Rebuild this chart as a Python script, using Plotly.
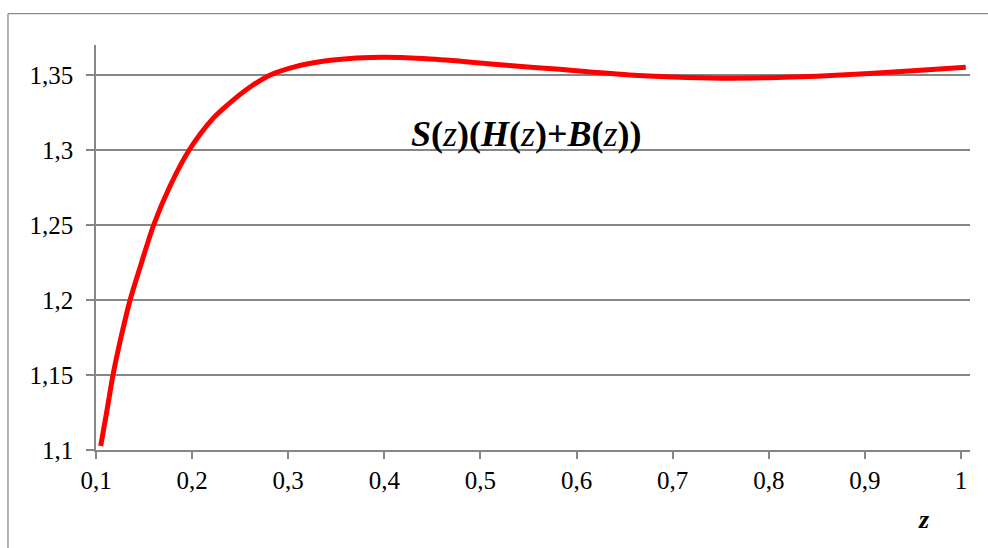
import plotly.graph_objects as go

z_vals = [0.1049, 0.1115, 0.1177, 0.1254, 0.1355, 0.1472, 0.160, 0.1767, 0.1970, 0.2218,
          0.2391, 0.26, 0.2808, 0.3085, 0.3362, 0.371, 0.40, 0.44, 0.485, 0.53, 0.5825, 0.62, 0.655,
          0.7, 0.75, 0.8, 0.85, 0.9, 0.95, 1.005]
f_vals = [1.1027, 1.1267, 1.15, 1.1733, 1.2, 1.2245, 1.25, 1.2755, 1.3, 1.3211,
          1.3313, 1.3418, 1.3499, 1.3558, 1.3591, 1.3613, 1.3619, 1.3610, 1.3589, 1.3563, 1.3538, 1.3517, 1.3500,
          1.3487, 1.3479, 1.3482, 1.3492, 1.3508, 1.3528, 1.3551]

x_ticks = [0.1, 0.2, 0.3, 0.4, 0.5, 0.6, 0.7, 0.8, 0.9, 1.0]
x_labels = ["0,1", "0,2", "0,3", "0,4", "0,5", "0,6", "0,7", "0,8", "0,9", "1"]
y_ticks = [1.1, 1.15, 1.2, 1.25, 1.3, 1.35]
y_labels = ["1,1", "1,15", "1,2", "1,25", "1,3", "1,35"]

GRID = "#868686"
FONT = "Liberation Serif"

fig = go.Figure()
fig.add_trace(go.Scatter(x=z_vals, y=f_vals, mode="lines",
                         line=dict(color="#ff0000", width=5, shape="spline", smoothing=0.8),
                         showlegend=False, hoverinfo="skip"))

fig.update_layout(
    width=988, height=548,
    margin=dict(l=96, r=18, t=45, b=98),
    paper_bgcolor="white", plot_bgcolor="white",
    font=dict(family=FONT, size=25, color="black"),
    xaxis=dict(range=[0.1, 1.0094], tickvals=x_ticks, ticktext=x_labels,
               showgrid=False, zeroline=False, showline=True, linecolor=GRID, linewidth=1.5,
               ticks="outside", ticklen=7, tickcolor=GRID, tickwidth=1.5,
               tickfont=dict(family=FONT, size=25, color="black")),
    yaxis=dict(range=[1.1, 1.37], tickvals=y_ticks, ticktext=y_labels,
               showgrid=True, gridcolor=GRID, gridwidth=1.5, zeroline=False,
               showline=True, linecolor=GRID, linewidth=1.5,
               ticks="outside", ticklen=8, tickcolor=GRID, tickwidth=1.5,
               tickfont=dict(family=FONT, size=25, color="black"), ticklabelstandoff=8),
    shapes=[
        dict(type="line", xref="paper", yref="paper", x0=-0.1007, x1=-0.1007, y0=1.0773, y1=-0.4,
             line=dict(color="#8c8c8c", width=1.3)),
        dict(type="line", xref="paper", yref="paper", x0=-0.1007, x1=1.2, y0=1.0773, y1=1.0773,
             line=dict(color="#8c8c8c", width=1.3)),
    ],
    annotations=[
        dict(xref="paper", yref="paper", x=0.493, y=0.835, showarrow=False,
             text="<b><i>S</i>(</b><i>z</i><b>)(<i>H</i>(</b><i>z</i><b>)+<i>B</i>(</b><i>z</i><b>))</b>",
             font=dict(family=FONT, size=36, color="black")),
        dict(xref="paper", yref="paper", x=(932 - 96) / 874, y=(450 - 536) / 405, showarrow=False,
             text="<b><i>z</i></b>", font=dict(family=FONT, size=26, color="black")),
    ],
)

fig.write_html("out.html")
